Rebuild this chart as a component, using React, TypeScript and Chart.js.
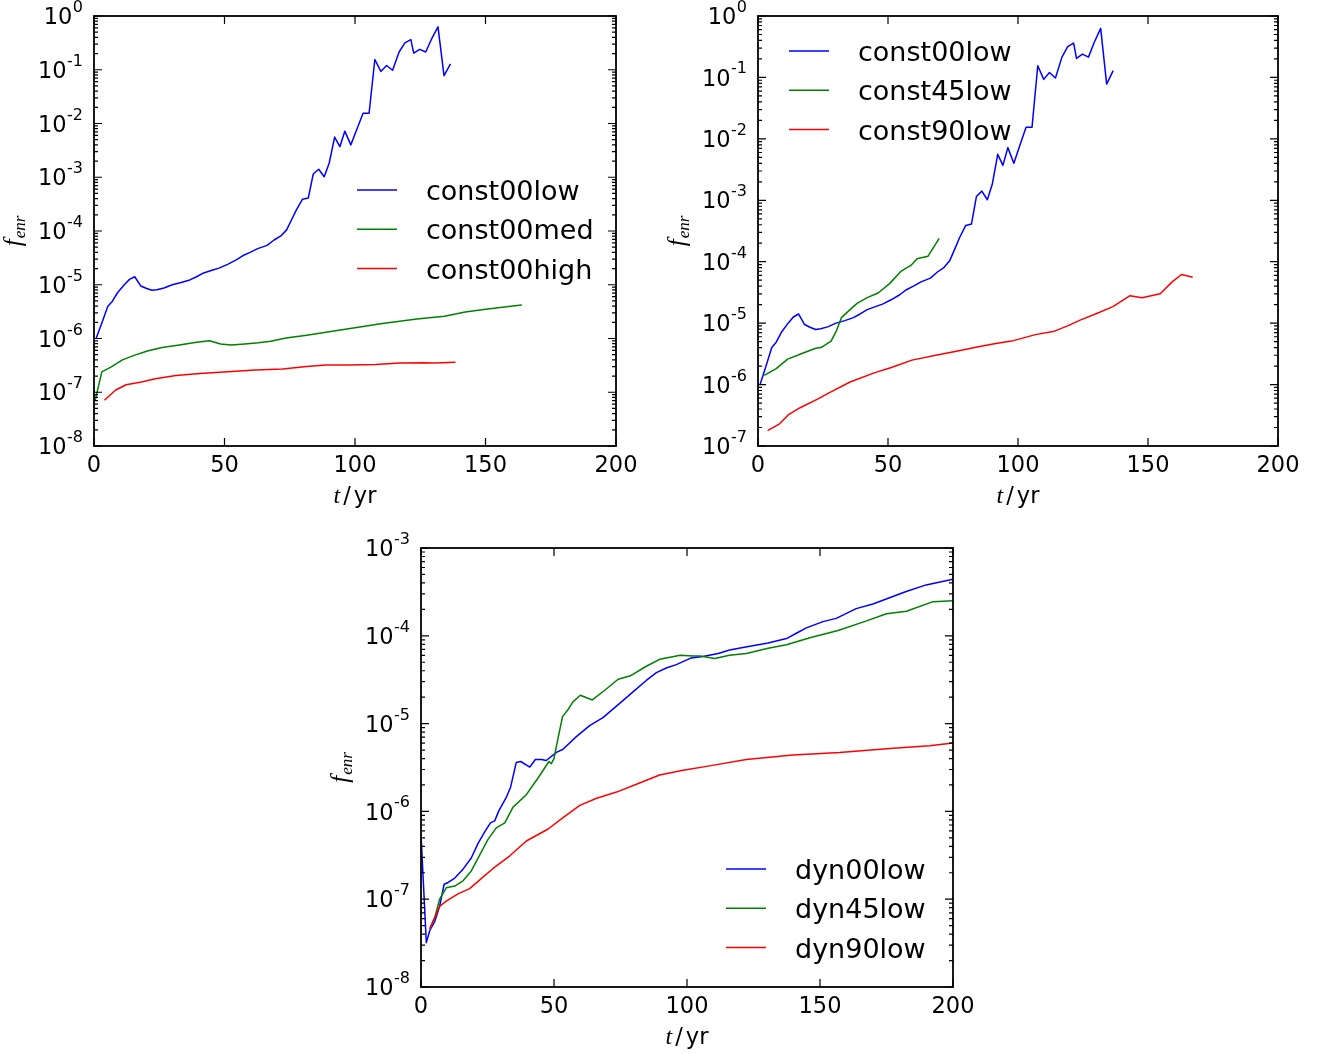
import { useEffect, useRef } from "react";
import { Chart, registerables } from "chart.js";

Chart.register(...registerables);

const W = 1321;
const H = 1054;

// ---------- tick values ----------
const xTickValues = [0, 50, 100, 150, 200];
const yExpsA = [-8, -7, -6, -5, -4, -3, -2, -1, 0];
const yExpsB = [-7, -6, -5, -4, -3, -2, -1, 0];
const yExpsC = [-8, -7, -6, -5, -4, -3];

// ---------- series data (t in yr, f_enr) ----------
const tConst00low = [0.8, 3, 5.3, 7, 9, 11.6, 13.6, 15.6, 17.9, 20.2, 22.2, 24.1, 26.8, 30, 33.4, 36.7, 39.3, 42, 45.2, 47.9, 51.2, 54.5, 57.1, 59.8, 62.7, 66.3, 69, 71.6, 73.8, 75.7, 77.6, 79.9, 82.1, 84.0, 86.1, 88.2, 90.1, 92.2, 94.2, 96.1, 98.4, 100.6, 103.1, 105.4, 107.6, 109.9, 112.1, 114.4, 116.9, 119.1, 121.4, 122.5, 124.8, 127.1, 129.3, 131.8, 134.1, 136.6];
const fConst00low = [1.0e-6, 1.95e-6, 4.0e-6, 4.9e-6, 7.1e-6, 1.0e-5, 1.26e-5, 1.41e-5, 9.5e-6, 8.5e-6, 7.9e-6, 8.1e-6, 8.7e-6, 1.0e-5, 1.1e-5, 1.23e-5, 1.41e-5, 1.66e-5, 1.86e-5, 2.04e-5, 2.4e-5, 2.9e-5, 3.5e-5, 4.0e-5, 4.7e-5, 5.4e-5, 6.8e-5, 8.1e-5, 1.05e-4, 1.62e-4, 2.5e-4, 3.9e-4, 4.1e-4, 1.15e-3, 1.41e-3, 1.02e-3, 1.82e-3, 5.6e-3, 3.7e-3, 7.2e-3, 4.0e-3, 7.6e-3, 1.55e-2, 1.55e-2, 0.155, 0.093, 0.12, 0.098, 0.214, 0.316, 0.363, 0.204, 0.24, 0.214, 0.37, 0.63, 0.078, 0.129];

const tConst00med = [0.4, 3, 6.3, 10.9, 15.6, 20.8, 26.1, 32.7, 39.3, 44.3, 48.5, 52.5, 57.8, 63.0, 67.7, 73.6, 81.5, 90.7, 100, 110.5, 123.7, 134.3, 142.2, 150.1, 158, 163.9];
const fConst00med = [6.9e-8, 2.4e-7, 2.9e-7, 4.0e-7, 4.9e-7, 5.9e-7, 6.8e-7, 7.6e-7, 8.5e-7, 9.1e-7, 7.9e-7, 7.6e-7, 7.9e-7, 8.3e-7, 8.9e-7, 1.02e-6, 1.15e-6, 1.35e-6, 1.58e-6, 1.9e-6, 2.3e-6, 2.6e-6, 3.1e-6, 3.5e-6, 3.9e-6, 4.2e-6];

const tConst00high = [4, 8.3, 12.3, 18.2, 23.5, 31.4, 40.6, 51.2, 61.7, 72.3, 81.5, 88.8, 97.3, 107.9, 117.1, 126.4, 130.3, 138.5];
const fConst00high = [7.1e-8, 1.1e-7, 1.38e-7, 1.55e-7, 1.78e-7, 2.04e-7, 2.24e-7, 2.4e-7, 2.6e-7, 2.7e-7, 3.0e-7, 3.2e-7, 3.2e-7, 3.3e-7, 3.5e-7, 3.55e-7, 3.5e-7, 3.6e-7];

const tConst45low = [2.4, 7, 11.4, 16.9, 22.2, 24.2, 28.1, 30.1, 32.1, 35.4, 38.1, 42, 46.2, 50.6, 55.2, 58.8, 61.2, 63.2, 65.4, 69.7];
const fConst45low = [1.41e-6, 1.82e-6, 2.6e-6, 3.2e-6, 3.9e-6, 4.0e-6, 5.1e-6, 7.4e-6, 1.23e-5, 1.66e-5, 2.1e-5, 2.6e-5, 3.1e-5, 4.4e-5, 7.1e-5, 8.7e-5, 1.12e-4, 1.17e-4, 1.23e-4, 2.4e-4];

const tConst90low = [3.7, 8.3, 11.6, 16.2, 22.9, 27.5, 35.4, 44.7, 51.3, 59.2, 68.4, 76.3, 84.3, 90.9, 97.5, 106.7, 114.0, 119.3, 123.9, 130.5, 136.5, 143.1, 147.7, 154.7, 159.3, 162.9, 167.2];
const fConst90low = [1.78e-7, 2.3e-7, 3.2e-7, 4.2e-7, 5.8e-7, 7.4e-7, 1.1e-6, 1.55e-6, 1.9e-6, 2.5e-6, 3.0e-6, 3.5e-6, 4.1e-6, 4.6e-6, 5.1e-6, 6.5e-6, 7.4e-6, 9.1e-6, 1.12e-5, 1.45e-5, 1.86e-5, 2.8e-5, 2.6e-5, 3.0e-5, 4.7e-5, 6.2e-5, 5.6e-5];

const tDyn00low = [0, 2.0, 3.3, 5.2, 7.0, 8.7, 10.2, 12.7, 15.8, 18.9, 21.4, 23.9, 26.1, 27.7, 29.3, 32.1, 33.7, 35.8, 37.5, 40.9, 43.0, 45.3, 47.1, 50.9, 53.4, 58.4, 63.4, 68.4, 74.7, 79.7, 84.7, 88.5, 92.2, 96.0, 101.6, 106.0, 111.7, 116.0, 123.6, 130.5, 137.4, 141.1, 144.9, 151.1, 156.1, 163.6, 169.9, 177.4, 182.4, 189.9, 200];
const fDyn00low = [5.5e-7, 3.2e-8, 4.4e-8, 5.6e-8, 8.3e-8, 1.48e-7, 1.55e-7, 1.74e-7, 2.2e-7, 2.95e-7, 4.3e-7, 5.8e-7, 7.4e-7, 7.8e-7, 1.02e-6, 1.45e-6, 1.9e-6, 3.6e-6, 3.7e-6, 3.2e-6, 3.9e-6, 3.9e-6, 3.8e-6, 4.7e-6, 5.1e-6, 7.1e-6, 9.5e-6, 1.17e-5, 1.7e-5, 2.3e-5, 3.1e-5, 3.8e-5, 4.3e-5, 4.7e-5, 5.6e-5, 5.8e-5, 6.3e-5, 6.9e-5, 7.6e-5, 8.3e-5, 9.3e-5, 1.07e-4, 1.23e-4, 1.45e-4, 1.58e-4, 2.04e-4, 2.3e-4, 2.8e-4, 3.2e-4, 3.8e-4, 4.4e-4];

const tDyn45low = [3.3, 5.2, 7.0, 9.5, 12.7, 15.8, 18.9, 22.1, 25.2, 28.3, 31.5, 34.6, 39.6, 44.0, 48.1, 49.0, 50.0, 51.5, 53.2, 55.3, 57.2, 59.9, 64.4, 69.1, 74.1, 78.7, 84.7, 89.7, 97.5, 102.3, 105, 110.4, 116.0, 122.3, 130.5, 137.4, 146.2, 156.8, 167.5, 175.0, 182.5, 192.5, 200];
const fDyn45low = [4.6e-8, 6.2e-8, 1.0e-7, 1.35e-7, 1.41e-7, 1.62e-7, 2.1e-7, 3.2e-7, 4.8e-7, 6.5e-7, 7.4e-7, 1.12e-6, 1.55e-6, 2.4e-6, 3.7e-6, 3.5e-6, 4.0e-6, 6.8e-6, 1.2e-5, 1.45e-5, 1.78e-5, 2.1e-5, 1.86e-5, 2.4e-5, 3.2e-5, 3.5e-5, 4.5e-5, 5.4e-5, 6.0e-5, 5.9e-5, 5.9e-5, 5.5e-5, 6.0e-5, 6.3e-5, 7.2e-5, 7.9e-5, 9.5e-5, 1.15e-4, 1.48e-4, 1.78e-4, 1.9e-4, 2.45e-4, 2.5e-4];

const tDyn90low = [3.3, 5.2, 7.0, 9.5, 13.9, 18.3, 22.1, 27.1, 33.3, 39.6, 47.8, 53.4, 59.7, 66.0, 73.5, 81.0, 89.7, 98.5, 108.5, 122.3, 139.8, 157.4, 176.2, 191.2, 200];
const fDyn90low = [4.6e-8, 6.2e-8, 8.3e-8, 9.5e-8, 1.15e-7, 1.32e-7, 1.66e-7, 2.24e-7, 3.1e-7, 4.6e-7, 6.3e-7, 8.5e-7, 1.17e-6, 1.41e-6, 1.66e-6, 2.04e-6, 2.6e-6, 2.95e-6, 3.3e-6, 3.9e-6, 4.4e-6, 4.7e-6, 5.2e-6, 5.6e-6, 6.0e-6];

// ---------- styling / layout ----------
const BLUE = "#0000ff";
const GREEN = "#008000";
const RED = "#ff0000";
const SANS = '"DejaVu Sans", "Liberation Sans", sans-serif';
const SERIF = '"Liberation Serif", "DejaVu Serif", serif';

type Series = { label: string; color: string; t: number[]; f: number[] };
type Panel = {
  area: { l: number; t: number; r: number; b: number };
  yExps: number[];
  series: Series[];
  legend: { dx: number; dy: number };
};

const panels: Panel[] = [
  {
    area: { l: 94, t: 16, r: 616, b: 446 },
    yExps: yExpsA,
    series: [
      { label: "const00low", color: BLUE, t: tConst00low, f: fConst00low },
      { label: "const00med", color: GREEN, t: tConst00med, f: fConst00med },
      { label: "const00high", color: RED, t: tConst00high, f: fConst00high },
    ],
    legend: { dx: 263, dy: 174 },
  },
  {
    area: { l: 758, t: 16, r: 1278, b: 446 },
    yExps: yExpsB,
    series: [
      { label: "const00low", color: BLUE, t: tConst00low, f: fConst00low },
      { label: "const45low", color: GREEN, t: tConst45low, f: fConst45low },
      { label: "const90low", color: RED, t: tConst90low, f: fConst90low },
    ],
    legend: { dx: 31, dy: 35 },
  },
  {
    area: { l: 421, t: 548, r: 953, b: 987 },
    yExps: yExpsC,
    series: [
      { label: "dyn00low", color: BLUE, t: tDyn00low, f: fDyn00low },
      { label: "dyn45low", color: GREEN, t: tDyn45low, f: fDyn45low },
      { label: "dyn90low", color: RED, t: tDyn90low, f: fDyn90low },
    ],
    legend: { dx: 305, dy: 321 },
  },
];

function makeAxesPlugin(p: Panel) {
  return {
    id: "mplAxes",
    afterDraw(chart: any) {
      const ctx: CanvasRenderingContext2D = chart.ctx;
      const a = chart.chartArea;
      const xs = chart.scales.x;
      const ys = chart.scales.y;
      const minE = p.yExps[0];
      const maxE = p.yExps[p.yExps.length - 1];
      ctx.save();
      ctx.strokeStyle = "#000";
      ctx.fillStyle = "#000";

      // inward ticks on all sides
      ctx.lineWidth = 1.2;
      ctx.beginPath();
      for (const v of xTickValues) {
        const px = xs.getPixelForValue(v);
        ctx.moveTo(px, a.bottom);
        ctx.lineTo(px, a.bottom - 8);
        ctx.moveTo(px, a.top);
        ctx.lineTo(px, a.top + 8);
      }
      for (let e = minE; e <= maxE; e++) {
        const py = ys.getPixelForValue(Math.pow(10, e));
        ctx.moveTo(a.left, py);
        ctx.lineTo(a.left + 8, py);
        ctx.moveTo(a.right, py);
        ctx.lineTo(a.right - 8, py);
        if (e < maxE) {
          for (let k = 2; k <= 9; k++) {
            const pm = ys.getPixelForValue(k * Math.pow(10, e));
            ctx.moveTo(a.left, pm);
            ctx.lineTo(a.left + 4, pm);
            ctx.moveTo(a.right, pm);
            ctx.lineTo(a.right - 4, pm);
          }
        }
      }
      ctx.stroke();

      // frame
      ctx.lineWidth = 1.8;
      ctx.strokeRect(a.left, a.top, a.right - a.left, a.bottom - a.top);

      // x tick labels
      ctx.font = `22.5px ${SANS}`;
      ctx.textAlign = "center";
      ctx.textBaseline = "alphabetic";
      for (const v of xTickValues) {
        const px = xs.getPixelForValue(v);
        ctx.fillText(String(v), px, a.bottom + 25.5);
      }

      // y tick labels: 10^e
      for (const e of p.yExps) {
        const py = ys.getPixelForValue(Math.pow(10, e));
        const xEnd = a.left - 11;
        ctx.textAlign = "right";
        ctx.font = `16px ${SANS}`;
        const expStr = String(e);
        const expW = ctx.measureText(expStr).width;
        ctx.fillText(expStr, xEnd, py - 4);
        ctx.font = `22.5px ${SANS}`;
        ctx.fillText("10", xEnd - expW - 0.5, py + 8.2);
      }

      // x axis title: t / yr
      const cx = (a.left + a.right) / 2;
      const by = a.bottom + 57;
      ctx.textAlign = "left";
      ctx.font = `italic 24px ${SERIF}`;
      const wt = ctx.measureText("t").width;
      ctx.font = `22.5px ${SANS}`;
      const ws = ctx.measureText("/").width;
      const wy = ctx.measureText("yr").width;
      const gap = 3;
      const total = wt + gap + ws + gap + wy;
      let x0 = cx - total / 2;
      ctx.font = `italic 24px ${SERIF}`;
      ctx.fillText("t", x0, by);
      x0 += wt + gap;
      ctx.font = `22.5px ${SANS}`;
      ctx.fillText("/", x0, by);
      x0 += ws + gap;
      ctx.fillText("yr", x0, by);

      // y axis title: f_enr (rotated)
      ctx.save();
      ctx.translate(a.left - 79, (a.top + a.bottom) / 2);
      ctx.rotate(-Math.PI / 2);
      ctx.font = `italic 25px ${SERIF}`;
      const wf = ctx.measureText("f").width;
      ctx.font = `italic 17px ${SERIF}`;
      const we = ctx.measureText("enr").width;
      const tw = wf + 1 + we;
      ctx.textAlign = "left";
      ctx.font = `italic 25px ${SERIF}`;
      ctx.fillText("f", -tw / 2, 6);
      ctx.font = `italic 17px ${SERIF}`;
      ctx.fillText("enr", -tw / 2 + wf + 1, 10);
      ctx.restore();

      // legend (no frame)
      const lx = a.left + p.legend.dx;
      const ly = a.top + p.legend.dy;
      chart.data.datasets.forEach((ds: any, i: number) => {
        const yy = ly + i * 39.3;
        ctx.strokeStyle = ds.borderColor;
        ctx.lineWidth = 1.5;
        ctx.beginPath();
        ctx.moveTo(lx, yy);
        ctx.lineTo(lx + 40, yy);
        ctx.stroke();
        ctx.fillStyle = "#000";
        ctx.font = `27px ${SANS}`;
        ctx.textAlign = "left";
        ctx.fillText(ds.label, lx + 69, yy + 9.9);
      });

      ctx.restore();
    },
  };
}

function PanelChart({ panel }: { panel: Panel }) {
  const ref = useRef<HTMLCanvasElement>(null);
  useEffect(() => {
    const canvas = ref.current;
    if (!canvas) return;
    const a = panel.area;
    const n = panel.series.length;
    const chart = new Chart(canvas, {
      type: "line",
      data: {
        datasets: panel.series.map((s, i) => ({
          label: s.label,
          data: s.t.map((t, j) => ({ x: t, y: s.f[j] })),
          borderColor: s.color,
          backgroundColor: s.color,
          borderWidth: 1.5,
          pointRadius: 0,
          tension: 0,
          fill: false,
          borderJoinStyle: "round",
          order: n - i,
        })),
      },
      options: {
        responsive: false,
        animation: false,
        devicePixelRatio: 1,
        events: [],
        layout: {
          autoPadding: false,
          padding: { left: a.l, top: a.t, right: W - a.r, bottom: H - a.b },
        },
        plugins: {
          legend: { display: false },
          tooltip: { enabled: false },
          title: { display: false },
        },
        scales: {
          x: { type: "linear", display: false, min: 0, max: 200 },
          y: {
            type: "logarithmic",
            display: false,
            min: Math.pow(10, panel.yExps[0]),
            max: Math.pow(10, panel.yExps[panel.yExps.length - 1]),
          },
        },
      } as any,
      plugins: [makeAxesPlugin(panel) as any],
    });
    return () => chart.destroy();
  }, [panel]);
  return (
    <canvas
      ref={ref}
      width={W}
      height={H}
      style={{ position: "absolute", left: 0, top: 0, width: W, height: H }}
    />
  );
}

export default function App() {
  return (
    <div
      style={{
        position: "absolute",
        left: 0,
        top: 0,
        width: W,
        height: H,
        background: "#fff",
        overflow: "hidden",
      }}
    >
      {panels.map((p, i) => (
        <PanelChart key={i} panel={p} />
      ))}
    </div>
  );
}
